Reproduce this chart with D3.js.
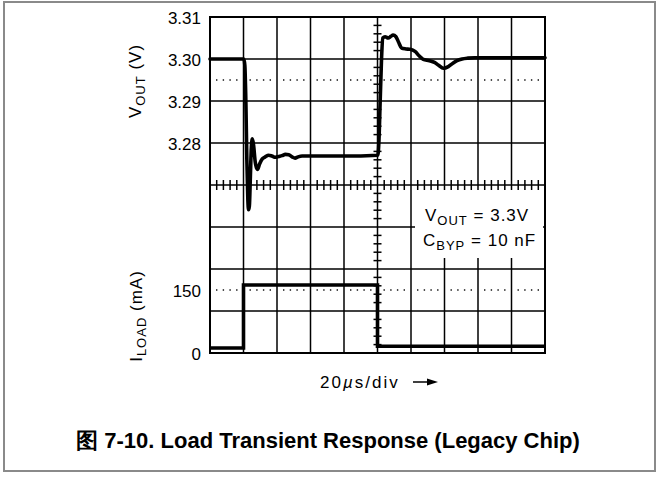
<!DOCTYPE html>
<html>
<head>
<meta charset="utf-8">
<script src="https://cdn.jsdelivr.net/npm/d3@7"></script>
<style>
  body { margin: 0; background: #fff; }
  svg { display: block; }
  text { font-family: "Liberation Sans", Arial, sans-serif; fill: #000; }
</style>
</head>
<body>
<svg id="chart" width="660" height="495"></svg>
<script>
// Output voltage trace (time in µs, volts)
const vTime = [0, 20.2, 20.8, 21.4, 22.0, 22.6, 23.0, 23.5, 24.1, 24.7,
  25.3, 26.0, 27.0, 28.3, 29.6, 31.2, 33.0, 35.0, 37.0, 39.0,
  41, 43, 45, 47, 49, 50.8, 52.6, 55, 60, 80,
  100.2, 100.8, 101.6, 102.4, 103.2, 104.5, 106.4, 108, 109.3, 111,
  112.6, 114.4, 117, 119.5, 122.4, 125, 127.3, 131, 134, 136.5,
  139.3, 142.3, 145, 147.5, 150.5, 154, 158, 170, 200];
const vOut = [3.3000, 3.3000, 3.2985, 3.2900, 3.2760, 3.2665, 3.2641, 3.2650, 3.2720, 3.2790,
  3.2810, 3.2795, 3.2755, 3.2737, 3.2750, 3.2762, 3.2767, 3.2771, 3.2769, 3.2766,
  3.2768, 3.2770, 3.2773, 3.2772, 3.2767, 3.2764, 3.2767, 3.2769, 3.2769, 3.2769,
  3.2771, 3.2800, 3.2900, 3.3000, 3.3050, 3.3053, 3.3050, 3.3054, 3.3057, 3.3053,
  3.3040, 3.3026, 3.3024, 3.3023, 3.3018, 3.3007, 3.2999, 3.2996, 3.2992, 3.2985,
  3.2978, 3.2982, 3.2990, 3.2996, 3.3000, 3.3002, 3.3003, 3.3003, 3.3003];

// Load current step (time in µs, mA)
const iTime = [0, 20, 20, 100, 100, 200];
const iLoad = [12, 12, 162, 162, 16, 16];

// Tick labels
const vTickValues = [3.31, 3.30, 3.29, 3.28];
const iTickValues = [150, 0];
const vDotted = 3.295;
const iDotted = 150;

const svg = d3.select("#chart");

// Outer figure border
svg.append("rect")
  .attr("x", 4).attr("y", 2).attr("width", 651).attr("height", 469)
  .attr("fill", "none").attr("stroke", "#8a8a8a").attr("stroke-width", 2);

const L = 210, R = 545, T = 17, B = 353;
const x = d3.scaleLinear().domain([0, 200]).range([L, R]);
const yV = d3.scaleLinear().domain([3.23, 3.31]).range([B, T]);
const yI = d3.scaleLinear().domain([0, 800]).range([B, T]);

// Graticule
const grid = svg.append("g").attr("stroke", "#000").attr("stroke-width", 1.5);
grid.selectAll(".gx").data(d3.range(20, 200, 20)).join("line")
  .attr("x1", d => x(d)).attr("x2", d => x(d)).attr("y1", T).attr("y2", B);
grid.selectAll(".gy").data(d3.range(1, 8)).join("line")
  .attr("y1", d => yI(d * 100)).attr("y2", d => yI(d * 100)).attr("x1", L).attr("x2", R);

// Minor ticks on centre axes
const cy = yV(3.27), cx = x(100);
const minorT = d3.range(0, 201, 4).filter(t => t % 20 !== 0);
grid.selectAll(".mx").data(minorT).join("line")
  .attr("x1", d => x(d)).attr("x2", d => x(d)).attr("y1", cy - 5).attr("y2", cy + 5);
const minorI = d3.range(0, 801, 20).filter(v => v % 100 !== 0);
grid.selectAll(".my").data(minorI).join("line")
  .attr("y1", d => yI(d)).attr("y2", d => yI(d)).attr("x1", cx - 4).attr("x2", cx + 4);

// Dotted reference levels
const dots = svg.append("g").attr("fill", "#000");
[[yV(vDotted)], [yI(iDotted)]].forEach(([yy]) => {
  dots.append("g").selectAll("rect").data(minorT).join("rect")
    .attr("x", d => x(d) - 0.7).attr("y", yy - 0.7)
    .attr("width", 1.4).attr("height", 1.4);
});

// Frame
svg.append("rect").attr("x", L).attr("y", T).attr("width", R - L).attr("height", B - T)
  .attr("fill", "none").attr("stroke", "#000").attr("stroke-width", 2);

// Annotation block
svg.append("rect").attr("x", 415).attr("y", 190).attr("width", 128).attr("height", 68)
  .attr("fill", "#fff");
const ann = svg.append("g").attr("font-size", 17).attr("letter-spacing", 1);
const a1 = ann.append("text").attr("x", 425).attr("y", 221);
a1.append("tspan").text("V");
a1.append("tspan").attr("font-size", 13).attr("dy", 4).text("OUT");
a1.append("tspan").attr("dy", -4).text(" = 3.3V");
const a2 = ann.append("text").attr("x", 423).attr("y", 246);
a2.append("tspan").text("C");
a2.append("tspan").attr("font-size", 13).attr("dy", 4).text("BYP");
a2.append("tspan").attr("dy", -4).text(" = 10 nF");

// Traces
const lineV = d3.line().x((d, i) => x(vTime[i])).y(d => yV(d)).curve(d3.curveMonotoneX);
svg.append("path").datum(vOut).attr("d", lineV)
  .attr("fill", "none").attr("stroke", "#000").attr("stroke-width", 3.6)
  .attr("stroke-linejoin", "round").attr("stroke-linecap", "round");
const lineI = d3.line().x((d, i) => x(iTime[i])).y(d => yI(d));
svg.append("path").datum(iLoad).attr("d", lineI)
  .attr("fill", "none").attr("stroke", "#000").attr("stroke-width", 3.6)
  .attr("stroke-linejoin", "miter");

// Tick labels
function styleAxis(g) {
  g.select(".domain").remove();
  g.selectAll("text").attr("font-size", 17)
    .attr("font-family", "'Liberation Sans', Arial, sans-serif");
  g.attr("font-family", null).attr("font-size", null);
}
svg.append("g").attr("transform", `translate(${L},1)`)
  .call(d3.axisLeft(yV).tickValues(vTickValues).tickSize(0).tickPadding(9).tickFormat(d3.format(".2f")))
  .call(styleAxis);
svg.append("g").attr("transform", `translate(${L},1)`)
  .call(d3.axisLeft(yI).tickValues(iTickValues).tickSize(0).tickPadding(9).tickFormat(d3.format("d")))
  .call(styleAxis);

// Axis titles
const t1 = svg.append("text").attr("font-size", 17).attr("letter-spacing", 1)
  .attr("text-anchor", "middle").attr("transform", "translate(141,81) rotate(-90)");
t1.append("tspan").text("V");
t1.append("tspan").attr("font-size", 13).attr("dy", 4).text("OUT");
t1.append("tspan").attr("dy", -4).text("  (V)");
const t2 = svg.append("text").attr("font-size", 17).attr("letter-spacing", 1)
  .attr("text-anchor", "middle").attr("transform", "translate(142,316) rotate(-90)");
t2.append("tspan").text("I");
t2.append("tspan").attr("font-size", 13).attr("dy", 4).text("LOAD");
t2.append("tspan").attr("dy", -4).text("  (mA)");

// Time base label
const tb = svg.append("text").attr("x", 320).attr("y", 388).attr("font-size", 17).attr("letter-spacing", 2);
tb.append("tspan").text("20");
tb.append("tspan").attr("font-style", "italic").text("µ");
tb.append("tspan").text("s/div");
svg.append("line").attr("x1", 413).attr("x2", 430).attr("y1", 382).attr("y2", 382)
  .attr("stroke", "#000").attr("stroke-width", 1.5);
svg.append("path").attr("d", "M438,382 L427,378.5 L427,385.5 Z").attr("fill", "#000");

// Caption
svg.append("text").attr("x", 328).attr("y", 448).attr("text-anchor", "middle")
  .attr("font-size", 22).attr("font-weight", "bold")
  .text("图 7-10. Load Transient Response (Legacy Chip)");
</script>
</body>
</html>
